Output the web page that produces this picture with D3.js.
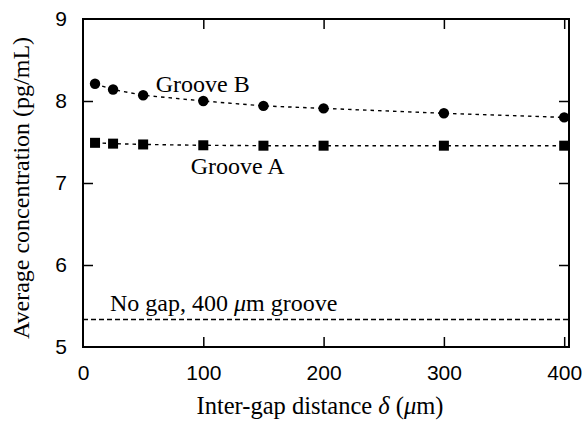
<!DOCTYPE html>
<html>
<head>
<meta charset="utf-8">
<script src="https://cdnjs.cloudflare.com/ajax/libs/d3/7.8.5/d3.min.js"></script>
<style>
  body { margin: 0; background: #fff; }
  svg { display: block; }
  .serif { font-family: "Liberation Serif", "Times New Roman", serif; font-size: 24px; fill: #000; }
  .tick text { font-family: "Liberation Sans", Arial, sans-serif; font-size: 21px; fill: #000; }
</style>
</head>
<body>
<div id="chart"></div>
<script>
var distances = [10, 25, 50, 100, 150, 200, 300, 400];
var grooveB = [8.21, 8.14, 8.07, 8.00, 7.94, 7.91, 7.85, 7.80];
var grooveA = [7.49, 7.48, 7.47, 7.46, 7.455, 7.455, 7.455, 7.455];
var noGapLevel = 5.335;
var xTicks = [0, 100, 200, 300, 400];
var yTicks = [5, 6, 7, 8, 9];

var margin = [19, 18, 80, 83],   // top, right, bottom, left
    W = 587, H = 427,
    width = W - margin[1] - margin[3],
    height = H - margin[0] - margin[2];

var x = d3.scaleLinear().domain([0, 404]).range([0, width]);
var y = d3.scaleLinear().domain([5, 9]).range([height, 0]);

var svg = d3.select("#chart").append("svg")
    .attr("width", W)
    .attr("height", H);

var g = svg.append("g")
    .attr("transform", "translate(" + margin[3] + "," + margin[0] + ")");

// Axes with inward ticks (mirrored on top and right, no labels there)
var axBottom = g.append("g")
    .attr("transform", "translate(0," + height + ")")
    .call(d3.axisBottom(x).tickValues(xTicks).tickSize(-10).tickPadding(18).tickFormat(d3.format("d")));
var axTop = g.append("g")
    .call(d3.axisTop(x).tickValues(xTicks).tickSize(-10).tickFormat(""));
var axLeft = g.append("g")
    .call(d3.axisLeft(y).tickValues(yTicks).tickSize(-10).tickPadding(16).tickFormat(d3.format("d")));
var axRight = g.append("g")
    .attr("transform", "translate(" + width + ",0)")
    .call(d3.axisRight(y).tickValues(yTicks).tickSize(-10).tickFormat(""));

[axBottom, axTop, axLeft, axRight].forEach(function(a) {
  a.select(".domain").remove();
  a.selectAll(".tick line").attr("stroke", "#000").attr("stroke-width", 1.5);
});
// ticks that sit on the frame corners are not drawn
axBottom.selectAll(".tick").filter(function(d) { return d === 0; }).select("line").remove();
axTop.selectAll(".tick").filter(function(d) { return d === 0; }).select("line").remove();
axLeft.selectAll(".tick").filter(function(d) { return d === 5 || d === 9; }).select("line").remove();
axRight.selectAll(".tick").filter(function(d) { return d === 5 || d === 9; }).select("line").remove();

// Reference line: no gap
g.append("line")
    .attr("x1", 0).attr("x2", width)
    .attr("y1", y(noGapLevel)).attr("y2", y(noGapLevel))
    .attr("stroke", "#000").attr("stroke-width", 1.4)
    .attr("stroke-dasharray", "5,3");

var line = d3.line()
    .x(function(d) { return x(d[0]); })
    .y(function(d) { return y(d[1]); });

var dataB = d3.zip(distances, grooveB);
var dataA = d3.zip(distances, grooveA);

g.append("path")
    .datum(dataB)
    .attr("d", line)
    .attr("fill", "none").attr("stroke", "#000")
    .attr("stroke-width", 1.4).attr("stroke-dasharray", "3.5,4");

g.append("path")
    .datum(dataA)
    .attr("d", line)
    .attr("fill", "none").attr("stroke", "#000")
    .attr("stroke-width", 1.4).attr("stroke-dasharray", "3.5,4");

g.selectAll("circle.b")
    .data(dataB)
    .enter().append("circle")
    .attr("class", "b")
    .attr("cx", function(d) { return x(d[0]); })
    .attr("cy", function(d) { return y(d[1]); })
    .attr("r", 5.2)
    .attr("fill", "#000");

g.selectAll("rect.a")
    .data(dataA)
    .enter().append("rect")
    .attr("class", "a")
    .attr("x", function(d) { return x(d[0]) - 5; })
    .attr("y", function(d) { return y(d[1]) - 5; })
    .attr("width", 10).attr("height", 10)
    .attr("fill", "#000");

// Frame
g.append("rect")
    .attr("width", width).attr("height", height)
    .attr("fill", "none").attr("stroke", "#000").attr("stroke-width", 2);

// Annotations
g.append("text").attr("class", "serif")
    .attr("x", x(60.5)).attr("y", y(8.11))
    .text("Groove B");
g.append("text").attr("class", "serif")
    .attr("x", x(89.5)).attr("y", y(7.11))
    .text("Groove A");
var ng = g.append("text").attr("class", "serif")
    .attr("x", x(22.4)).attr("y", y(5.435));
ng.append("tspan").text("No gap, 400 ");
ng.append("tspan").style("font-style", "italic").text("\u03bc");
ng.append("tspan").text("m groove");

// Axis titles
var xt = svg.append("text").attr("class", "serif")
    .attr("x", 320).attr("y", 414)
    .attr("text-anchor", "middle")
    .style("font-size", "24.5px");
xt.append("tspan").text("Inter-gap distance ");
xt.append("tspan").style("font-style", "italic").text("\u03b4");
xt.append("tspan").text(" (");
xt.append("tspan").style("font-style", "italic").text("\u03bc");
xt.append("tspan").text("m)");

svg.append("text").attr("class", "serif")
    .attr("transform", "translate(29,188) rotate(-90)")
    .attr("text-anchor", "middle")
    .text("Average concentration (pg/mL)");
</script>
</body>
</html>
